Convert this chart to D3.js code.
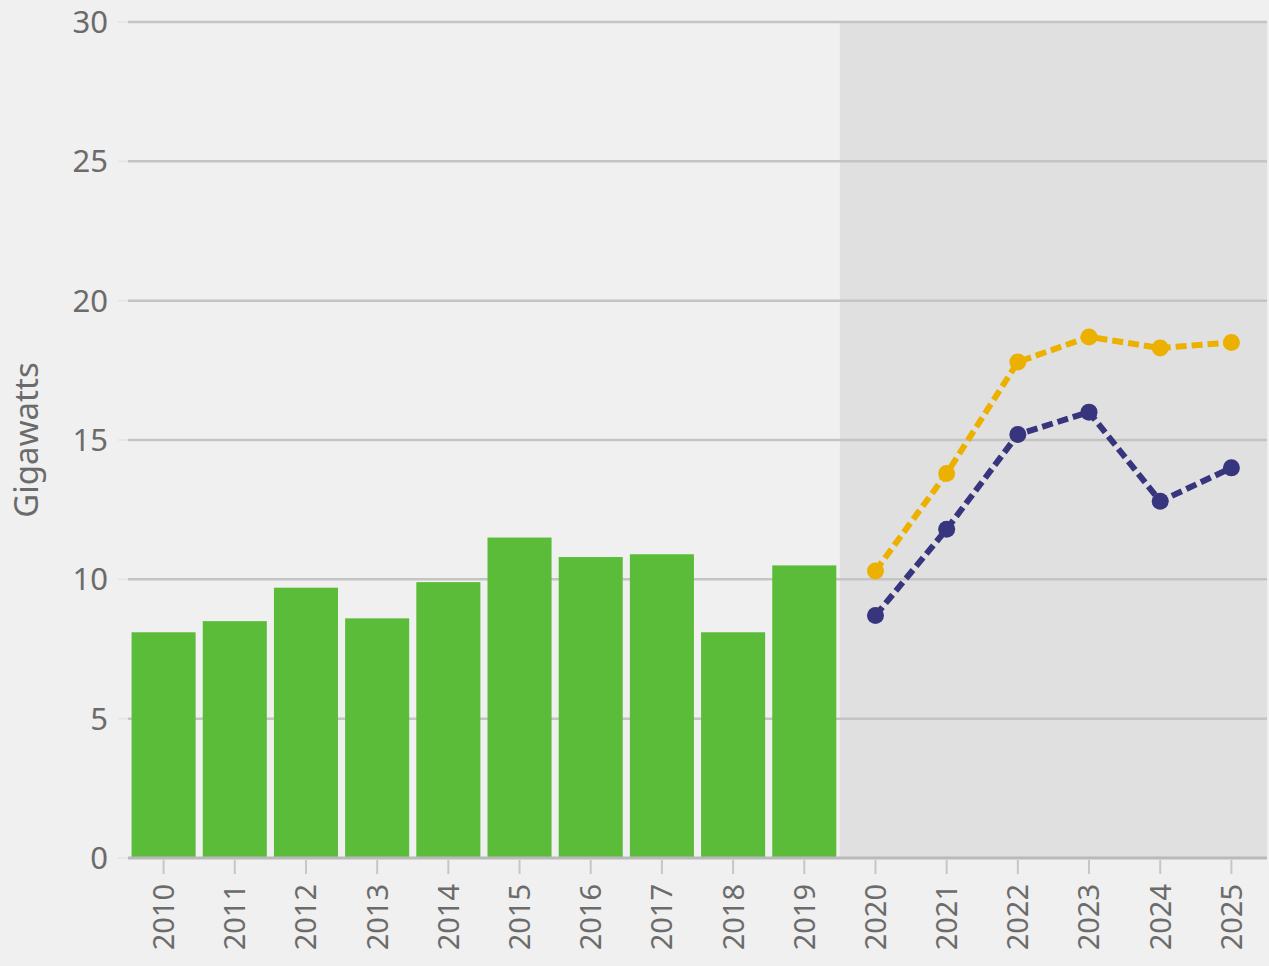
<!doctype html>
<html lang="en">
  <head>
    <meta charset="utf-8">
    <title>Gigawatts by year</title>
    <script src="https://d3js.org/d3.v7.min.js"></script>
    <style>
      body { margin: 0; background: #f0f0f0; }
      text { font-family: "Noto Sans", sans-serif; fill: #6b6b6b; }
    </style>
  </head>
  <body>
    <div id="chart"></div>
    <script>
    // Data
    var years = ['2010','2011','2012','2013','2014','2015','2016','2017','2018','2019',
                 '2020','2021','2022','2023','2024','2025'];
    var barYears = ['2010','2011','2012','2013','2014','2015','2016','2017','2018','2019'];
    var barValues = [8.1, 8.5, 9.7, 8.6, 9.9, 11.5, 10.8, 10.9, 8.1, 10.5];
    var forecastYears = ['2020','2021','2022','2023','2024','2025'];
    var highValues = [10.3, 13.8, 17.8, 18.7, 18.3, 18.5];
    var lowValues = [8.7, 11.8, 15.2, 16.0, 12.8, 14.0];
    var yTicks = [0, 5, 10, 15, 20, 25, 30];

    var W = 1269, H = 966;
    var mLeft = 128, mRight = 1267, mTop = 22, mBottom = 858;

    var svg = d3.select('#chart').append('svg')
        .attr('width', W).attr('height', H);

    var x = d3.scaleBand().domain(years).range([mLeft, mRight])
        .paddingInner(0.1).paddingOuter(0.05);
    var xp = d3.scalePoint().domain(years).range([mLeft, mRight]).padding(0.5);
    var y = d3.scaleLinear().domain([0, 30]).range([mBottom, mTop]);

    // Shaded forecast region
    var shadeStart = mLeft + x.step() * barYears.length;
    svg.append('rect')
        .attr('x', shadeStart).attr('y', mTop)
        .attr('width', mRight - shadeStart).attr('height', mBottom - mTop)
        .attr('fill', '#e0e0e0');

    // Gridlines
    svg.append('g').selectAll('line')
        .data(yTicks.filter(function(d) { return d > 0; }))
        .enter().append('line')
        .attr('x1', mLeft).attr('x2', mRight)
        .attr('y1', function(d) { return y(d); })
        .attr('y2', function(d) { return y(d); })
        .attr('stroke', '#c4c4c4').attr('stroke-width', 2.5);
    // faint left part of ticks
    svg.append('g').selectAll('line')
        .data(yTicks)
        .enter().append('line')
        .attr('x1', mLeft - 10).attr('x2', mLeft)
        .attr('y1', function(d) { return y(d); })
        .attr('y2', function(d) { return y(d); })
        .attr('stroke', '#e6e6e6').attr('stroke-width', 2);

    // Y tick labels
    svg.append('g').selectAll('text')
        .data(yTicks)
        .enter().append('text')
        .attr('x', 108)
        .attr('y', function(d) { return y(d); })
        .attr('dy', '0.36em')
        .attr('text-anchor', 'end')
        .style('font-size', '31px')
        .text(function(d) { return d; });

    // Y axis title
    svg.append('text')
        .attr('transform', 'translate(38,440)rotate(-90)')
        .attr('text-anchor', 'middle')
        .style('font-size', '33px')
        .text('Gigawatts');

    // Bars
    svg.append('g').selectAll('rect')
        .data(barYears)
        .enter().append('rect')
        .attr('x', function(d) { return x(d); })
        .attr('width', x.bandwidth())
        .attr('y', function(d, i) { return y(barValues[i]); })
        .attr('height', function(d, i) { return mBottom - y(barValues[i]); })
        .attr('fill', '#5bbc3a');

    // X axis line
    svg.append('line')
        .attr('x1', mLeft).attr('x2', mRight)
        .attr('y1', mBottom).attr('y2', mBottom)
        .attr('stroke', '#b9b9b9').attr('stroke-width', 3);

    // X ticks and labels
    var xt = svg.append('g').selectAll('g')
        .data(years)
        .enter().append('g')
        .attr('transform', function(d) { return 'translate(' + xp(d) + ',' + mBottom + ')'; });
    xt.append('line')
        .attr('y1', 2).attr('y2', 16)
        .attr('stroke', '#c6c6c6').attr('stroke-width', 2);
    xt.append('text')
        .attr('transform', 'translate(0,26)rotate(-90)')
        .attr('text-anchor', 'end')
        .attr('dy', '0.36em')
        .style('font-size', '29px')
        .text(function(d) { return d; });

    // Forecast lines
    function drawSeries(values, color) {
        var pts = forecastYears.map(function(d, i) { return [xp(d), y(values[i])]; });
        svg.append('path')
            .attr('d', d3.line()(pts))
            .attr('fill', 'none')
            .attr('stroke', color)
            .attr('stroke-width', 6)
            .attr('stroke-dasharray', '11,5');
        svg.append('g').selectAll('circle')
            .data(pts)
            .enter().append('circle')
            .attr('cx', function(d) { return d[0]; })
            .attr('cy', function(d) { return d[1]; })
            .attr('r', 8.5)
            .attr('fill', color);
    }
    drawSeries(highValues, '#ecb100');
    drawSeries(lowValues, '#38357f');
    </script>
  </body>
</html>
